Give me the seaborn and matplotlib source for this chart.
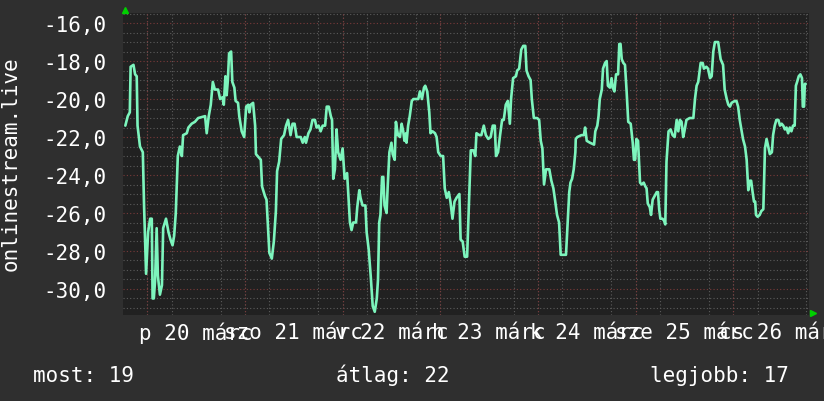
import numpy as np
import pandas as pd
import matplotlib
matplotlib.use("Agg")
import matplotlib.pyplot as plt
import seaborn as sns

# time in hours since 20 March 00:00
hours = [
    -5.4, -4.8, -4.3, -4.1, -3.4, -3.0, -2.6, -2.4, -1.8, -1.1, -0.8, -0.3,
    0.2, 0.7, 1.1, 1.3, 1.6, 1.9, 2.3, 2.6, 3.1, 3.6, 3.9, 4.6, 5.2, 5.7,
    6.2, 6.6, 7.0, 7.5, 8.0, 8.5, 8.8, 9.7, 10.1, 10.9, 11.7, 12.5, 14.2,
    14.6, 15.1, 15.6, 16.1, 16.6, 17.4, 17.9, 18.5, 18.8, 19.2, 19.5, 19.8,
    20.1, 20.6, 20.9, 21.4, 21.7, 22.3, 22.6, 23.2, 23.8, 24.3, 24.8, 25.1,
    25.4, 26.0, 26.5, 26.7, 27.5, 27.9, 28.2, 28.9, 29.3, 30.0, 30.6, 31.1,
    31.6, 31.9, 32.4, 32.9, 33.6, 34.1, 34.6, 35.2, 35.7, 36.2, 36.7, 37.7,
    38.2, 38.7, 39.0, 39.6, 40.1, 40.6, 41.2, 41.6, 42.1, 42.6, 43.1, 43.7,
    44.1, 44.6, 45.1, 45.4, 45.7, 46.1, 46.5, 46.9, 47.5, 48.0, 48.5, 49.1,
    49.5, 49.8, 50.2, 50.6, 51.3, 51.6, 52.1, 52.4, 52.9, 53.6, 53.9, 54.4,
    54.9, 55.4, 55.9, 56.4, 56.7, 57.0, 57.3, 57.7, 58.0, 58.3, 58.8, 59.1,
    59.5, 60.0, 60.3, 60.8, 61.1, 61.6, 62.1, 62.5, 62.9, 63.2, 63.6, 63.7,
    64.1, 64.5, 65.0, 65.4, 66.6, 67.0, 67.5, 68.0, 68.3, 68.8, 69.3, 69.6,
    70.1, 70.7, 71.1, 71.5, 72.1, 72.7, 73.1, 73.6, 74.1, 74.5, 75.0, 75.5,
    76.0, 76.7, 77.0, 77.5, 78.0, 78.6, 79.0, 79.5, 80.1, 80.6, 80.9, 81.6,
    82.1, 82.7, 83.2, 83.8, 84.4, 84.9, 85.4, 85.7, 86.2, 86.7, 87.2, 87.6,
    88.1, 88.6, 89.1, 89.4, 89.9, 90.6, 90.9, 91.4, 91.9, 92.4, 92.9, 93.2,
    93.7, 94.2, 94.5, 95.0, 95.8, 96.3, 96.7, 97.1, 97.5, 98.0, 98.8, 99.3,
    99.8, 100.2, 100.7, 101.2, 101.6, 102.9, 103.2, 103.7, 104.0, 104.4,
    104.8, 105.2, 105.3, 105.7, 106.7, 107.3, 107.6, 108.0, 108.8, 109.8,
    110.1, 110.6, 110.9, 111.2, 111.7, 112.0, 112.5, 112.9, 113.2, 113.7,
    114.1, 114.4, 114.8, 115.2, 115.7, 116.0, 116.3, 116.6, 117.0, 117.4,
    117.8, 118.2, 118.8, 119.3, 119.6, 119.9, 120.2, 120.6, 121.1, 121.5,
    122.0, 122.4, 122.7, 123.0, 123.5, 123.8, 124.2, 124.7, 125.2, 125.5,
    125.8, 126.1, 126.6, 127.0, 127.3, 127.6, 128.1, 128.6, 129.1, 129.6,
    130.1, 130.5, 130.9, 131.3, 131.7, 132.0, 132.5, 133.3, 134.2, 134.6,
    135.0, 135.4, 136.0, 136.5, 136.8, 137.4, 137.8, 138.3, 138.7, 139.1,
    139.5, 140.3, 140.9, 141.5, 141.9, 142.4, 142.8, 143.2, 143.6, 144.4,
    144.8, 145.2, 145.6, 146.0, 146.4, 146.9, 147.3, 147.7, 148.1, 148.4,
    148.7, 149.1, 149.4, 149.6, 150.0, 150.5, 150.9, 151.4, 151.8, 152.2,
    152.6, 153.0, 153.5, 153.8, 154.2, 154.6, 155.1, 155.5, 155.9, 156.3,
    156.7, 157.1, 157.5, 157.9, 158.3, 158.7, 159.1, 159.4, 159.7, 160.1,
    160.5, 160.9, 161.1, 161.4, 161.6, 161.8,
]
values = [
    -21.4, -20.9, -20.7, -18.3, -18.2, -18.7, -18.8, -21.4, -22.5, -22.8, -25.6, -29.2,
    -27.0, -26.3, -26.3, -30.5, -30.5, -29.6, -26.8, -29.3, -30.3, -29.8, -26.8, -26.3, -27.0, -27.4,
    -27.7, -27.2, -26.0, -23.0, -22.5, -23.0, -21.9, -21.8, -21.5, -21.3, -21.2, -21.0, -20.9,
    -21.8, -20.9, -20.3, -19.1, -19.5, -19.5, -20.0, -19.9, -20.3, -18.8, -19.8, -19.0,
    -17.6, -17.5, -19.1, -19.4, -20.1, -20.2, -20.9, -21.7, -22.0, -20.4, -20.3, -20.7,
    -20.3, -20.2, -21.4, -22.9, -23.1, -23.2, -24.6, -25.1, -25.3, -28.1, -28.4, -27.5,
    -25.9, -23.8, -23.3, -22.1, -21.9, -21.4, -21.1, -21.9, -21.3, -21.3, -22.0, -22.0,
    -22.3, -22.0, -22.3, -21.8, -21.6, -21.1, -21.1, -21.5, -21.4, -21.7, -21.4, -21.4,
    -20.4, -20.4, -20.9, -21.1, -24.2, -23.7, -21.6, -22.8, -23.2, -22.6, -24.2, -23.9,
    -25.4, -26.5, -26.9, -26.5, -26.5, -25.7, -24.8, -25.2, -25.6, -25.6, -27.0, -27.9,
    -29.3, -30.9, -31.2, -30.5, -29.5, -26.5, -26.1, -24.1, -24.1, -25.6, -26.0, -24.5,
    -22.8, -22.3, -22.9, -23.2, -21.2, -21.9, -22.0, -21.3, -21.7, -22.2, -21.8, -22.3,
    -21.4, -20.9, -20.1, -20.0, -20.0, -19.6, -20.0, -19.4, -19.3, -19.6, -20.7, -21.8,
    -21.7, -21.8, -22.0, -22.8, -23.0, -23.0, -24.7, -25.2, -24.9, -25.4, -26.3, -25.4,
    -25.2, -25.0, -27.4, -27.5, -28.3, -28.3, -25.8, -22.7, -22.7, -23.0, -21.8, -21.9,
    -21.9, -21.4, -21.9, -22.1, -22.0, -21.4, -21.4, -23.0, -22.8, -21.9, -21.1, -21.1,
    -20.3, -20.1, -21.3, -20.0, -18.9, -18.8, -18.5, -18.4, -17.4, -17.2, -17.2, -18.5,
    -18.8, -19.0, -20.0, -21.0, -21.0, -21.1, -22.2, -22.6, -24.5, -23.7, -23.7, -24.3,
    -24.7, -25.3, -26.1, -26.5, -28.2, -28.2, -27.0, -24.9, -24.4, -24.2,
    -23.7, -22.8, -22.1, -22.0, -21.9, -21.9, -21.5, -22.2, -22.3, -22.4,
    -21.7, -21.4, -20.9, -20.0, -19.5, -18.4, -18.1, -18.0, -19.3, -19.4,
    -18.9, -19.4, -19.6, -18.7, -18.7, -17.1, -17.1, -17.9, -18.1, -18.2,
    -19.6, -21.2, -21.3, -22.3, -23.2, -23.2, -22.1, -22.2, -24.4, -24.5,
    -24.4, -24.6, -24.7, -25.5, -25.7, -26.1, -25.3, -25.1, -24.9, -24.9,
    -25.8, -26.3, -26.3, -26.4, -26.6, -23.3, -21.7, -21.6, -21.9, -22.0,
    -21.1, -21.7, -21.1, -21.2, -22.0, -21.7, -21.1, -21.0, -21.0, -20.0,
    -19.3, -19.1, -18.1, -18.1, -18.4, -18.3, -18.4, -18.9, -18.8, -17.5,
    -17.0, -17.0, -17.9, -18.2, -19.5, -20.0, -20.3, -20.4, -20.2, -20.1,
    -20.1, -20.4, -21.1, -21.6, -22.1, -22.5, -23.2, -24.8, -24.3, -24.3,
    -24.8, -25.4, -25.4, -26.1, -26.2, -26.1, -25.9, -25.8, -22.6, -22.1,
    -22.5, -22.9, -22.8, -21.9, -21.4, -21.1, -21.1, -21.4, -21.3, -21.4,
    -21.6, -21.5, -21.8, -21.5, -21.7, -21.4, -21.4, -19.3, -19.1, -18.8,
    -18.7, -18.9, -20.4, -20.4, -19.2, -19.2,
]

day_labels = ["p 20 márc", "szo 21 márc", "v 22 márc", "h 23 márc",
              "k 24 márc", "sze 25 márc", "cs 26 márc"]
day_noon = [12, 36, 60, 84, 108, 132, 156]
y_ticks = [-16, -18, -20, -22, -24, -26, -28, -30]
axis_title = "onlinestream.live"
stat_names = ["most", "átlag", "legjobb"]
stat_values = [19, 22, 17]

BG = "#2f2f2f"
PLOT_BG = "#212121"
LINE = "#7df5bd"
MINOR = "#5c5c5c"
MAJOR = "#7a3a3a"
FS = 15

sns.set_theme(style="dark")
plt.rcParams["font.family"] = ["DejaVu Sans Mono"]

df = pd.DataFrame({"hour": hours, "value": values})

fig = plt.figure(figsize=(8.24, 4.02), dpi=100, facecolor=BG)
ax = fig.add_axes([123.5 / 824, 1 - 316 / 402, 685 / 824, 302 / 402])
ax.set_facecolor(PLOT_BG)

sns.lineplot(data=df, x="hour", y="value", ax=ax, color=LINE,
             linewidth=1.9, estimator=None, sort=False, zorder=3)

ax.set_xlim(-5.85, 162.5)
ax.set_ylim(-31.37, -15.47)

# grid: dotted minor lines, reddish major lines
ax.set_yticks(y_ticks)
ax.set_yticklabels([f"{v:.1f}".replace(".", ",") for v in y_ticks])
ax.set_yticks(np.arange(-31.0, -15.4, 0.5), minor=True)
ax.set_xticks(day_noon)
ax.set_xticklabels(day_labels)
ax.set_xticks(np.arange(-0.0, 163, 6), minor=True)

dots = (0, (1, 2))
ax.grid(False)
ax.grid(which="minor", color=MINOR, linestyle=dots, linewidth=0.8)
ax.grid(which="major", axis="y", color=MAJOR, linestyle=dots, linewidth=0.8)
for h in range(0, 163, 24):
    ax.axvline(h, color=MAJOR, linestyle=dots, linewidth=0.8, zorder=1)
ax.set_axisbelow(True)

for s in ax.spines.values():
    s.set_visible(False)
ax.tick_params(which="both", length=0, colors="white", labelsize=FS)
ax.tick_params(axis="y", pad=12)
ax.tick_params(axis="x", pad=5)
ax.set_xlabel("")
ax.set_ylabel("")

# axis arrows
ax.plot([0.002], [1.01], marker="^", color="#00d000", markersize=5,
        transform=ax.transAxes, clip_on=False)
ax.plot([1.007], [0.007], marker=">", color="#00d000", markersize=5,
        transform=ax.transAxes, clip_on=False)

fig.text(11 / 824, 1 - 164 / 402, axis_title, rotation=90, color="white",
         fontsize=FS, ha="center", va="center")

stat_x = [33, 336, 650]
for name, val, x in zip(stat_names, stat_values, stat_x):
    fig.text(x / 824, 1 - 382 / 402, f"{name}: {val}", color="white",
             fontsize=FS, ha="left", va="baseline")

fig.savefig("out.png", dpi=100, facecolor=BG)
